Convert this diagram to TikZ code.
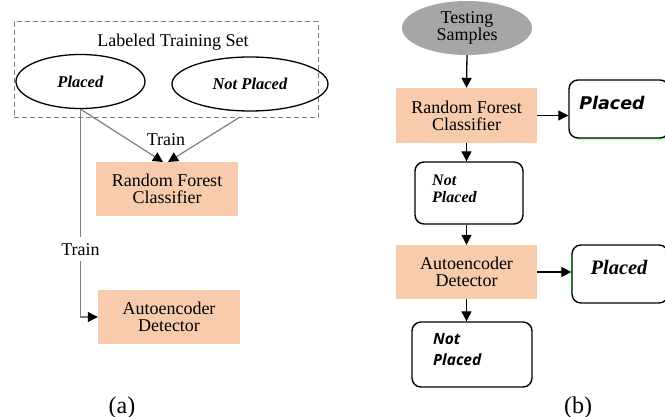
\documentclass[tikz,border=0pt]{standalone}
\usepackage{fontspec}
\setmainfont{Liberation Serif}
\newfontfamily\djv{DejaVu Sans}
\newfontfamily\opn{Open Sans}
\usetikzlibrary{arrows.meta,shapes.geometric}
\definecolor{peach}{HTML}{F8CBAD}
\definecolor{tsgray}{HTML}{A6A6A6}
\definecolor{lgray}{HTML}{7F7F7F}
\tikzset{
  fsz/.style={font=\fontsize{#1}{#1}\selectfont},
  procbox/.style={draw=none, fill=peach, minimum width=142pt, minimum height=54pt, inner sep=0pt, align=center, fsz=18},
  outbox/.style={draw=black, line width=1.4pt, rounded corners=9pt, fill=white, inner sep=0pt},
  oval/.style={ellipse, draw=black, line width=1.3pt, inner sep=0pt},
  arr/.style={line width=1.3pt, -{Triangle[length=10pt,width=10pt]}},
  garr/.style={draw=lgray, line width=1.2pt, -{Triangle[length=10pt,width=10pt,color=black,fill=black]}},
}
\begin{document}
\begin{tikzpicture}[x=1pt,y=-1pt]
\useasboundingbox (0,0) rectangle (665,417);
\clip (0,0) rectangle (665,417);
\fill[white] (0,0) rectangle (665,417);

% ---------- (a) ----------
\node[draw=gray, dash pattern=on 5pt off 3pt, line width=1pt, minimum width=304pt, minimum height=96pt, inner sep=0pt] (set) at (166,70) {};
\node[fsz=18] (settitle) at (173,42) {Labeled Training Set};
\node[oval, minimum width=129pt, minimum height=54pt, fsz=16.5] (pl) at (80.5,81.5) {\textbf{\textit{Placed}}};
\node[oval, minimum width=156pt, minimum height=54pt, fsz=16.5] (npl) at (250,84) {\textbf{\textit{Not Placed}}};
\node[procbox] (rf) at (167,189) {Random Forest\\[-1pt]Classifier};
\node[procbox] (ae) at (169,317) {Autoencoder\\[-1pt]Detector};
\node[fsz=18] (tr1) at (166,140) {Train};
\coordinate (npfoot) at (240,117);
\coordinate (tipA) at (163,162);
\coordinate (tipB) at (168,162);
\draw[garr] (pl.south) -- (tipA);
\draw[garr] (npfoot) -- (tipB);
\draw[garr] (pl.south) |- node[pos=0.337, fill=white, inner xsep=1pt, inner ysep=6pt, text=black, fsz=18] (tr2) {Train} (ae.west);
\node[fsz=24, anchor=base] (la) at (122,413) {(a)};

% ---------- (b) ----------
\node[ellipse, fill=tsgray, minimum width=130pt, minimum height=54pt, inner sep=0pt, align=center, fsz=18] (ts) at (467,28) {Testing\\[-1pt]Samples};
\node[procbox, minimum width=141pt, minimum height=55pt] (rf2) at (466.5,115.5) {Random Forest\\[-1pt]Classifier};
\node[procbox, minimum width=141pt, minimum height=54pt] (ae2) at (466.5,272) {Autoencoder\\[-1pt]Detector};

\fill[green!35!white, opacity=0.7, rounded corners=9pt] (572,82) rectangle (672,140.5);
\node[outbox, minimum width=100pt, minimum height=58pt] (p1) at (619,109) {};
\node[font=\djv\bfseries\itshape\fontsize{17.5}{17.5}\selectfont] (p1t) at (612,103) {Placed};

\node[outbox, minimum width=108pt, minimum height=62pt] (np1) at (469,193) {};
\node[align=left, anchor=north west, inner sep=0pt, font=\bfseries\itshape\fontsize{16}{17}\selectfont] (np1t) at (432,175) {Not\\Placed};

\node[outbox, minimum width=96pt, minimum height=58pt] (p2) at (620,274) {};
\draw[green!55!black, line width=1pt] (571.5,254) -- (571.5,294);
\node[font=\bfseries\itshape\fontsize{20.5}{20.5}\selectfont] (p2t) at (619,267) {Placed};

\node[outbox, minimum width=120pt, minimum height=65pt] (np2) at (472,354.5) {};
\node[align=left, anchor=north west, inner sep=0pt, font=\opn\bfseries\itshape\fontsize{15.5}{21}\selectfont] (np2t) at (433,333) {Not\\Placed};

\draw[arr] (ts.south) -- (rf2.north);
\draw[arr] (rf2.east) -- (rf2.east -| p1.west);
\draw[arr] (rf2.south) -- (rf2.south |- np1.north);
\draw[arr] (rf2.south |- np1.south) -- (ae2.north);
\draw[arr] (ae2.east) -- (ae2.east -| p2.west);
\draw[arr] (ae2.south) -- (ae2.south |- np2.north);
\node[fsz=24, anchor=base] (lb) at (578,413) {(b)};
\end{tikzpicture}
\end{document}
